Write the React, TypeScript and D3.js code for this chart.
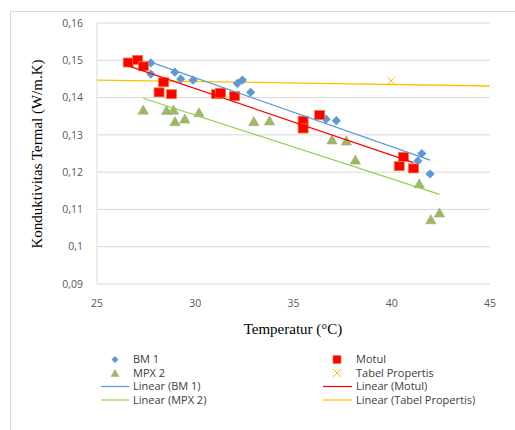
import React from "react";
import * as d3 from "d3";

const bm1T = [27.74, 27.74, 28.96, 29.26, 29.89, 32.14, 32.4, 32.82, 36.66, 37.18, 41.53, 41.33, 41.95];
const bm1K = [0.1493, 0.1463, 0.1468, 0.145, 0.1447, 0.1438, 0.1447, 0.1414, 0.1342, 0.1338, 0.125, 0.123, 0.1195];

const motulT = [26.59, 27.07, 27.37, 28.39, 28.16, 28.79, 31.08, 31.29, 32.0, 35.49, 35.49, 36.33, 40.6, 40.38, 41.11];
const motulK = [0.1494, 0.1501, 0.1484, 0.1441, 0.1414, 0.1409, 0.1409, 0.1413, 0.1404, 0.1338, 0.1317, 0.1353, 0.1241, 0.1216, 0.121];

const mpxT = [27.35, 28.54, 28.89, 28.97, 29.47, 30.19, 32.98, 33.78, 36.96, 37.69, 38.15, 41.4, 41.99, 42.43];
const mpxK = [0.1366, 0.1365, 0.1366, 0.1335, 0.1342, 0.1359, 0.1335, 0.1337, 0.1286, 0.1283, 0.1232, 0.1168, 0.1072, 0.109];

const tabelT = [39.97];
const tabelK = [0.1445];
// Excel trendline for Tabel Propertis (its fit spans beyond the plotted range)
const tabelTrendIntercept = 0.1467;
const tabelTrendSlope = -0.00008;

const xTicks = [25, 30, 35, 40, 45];
const yTicks = [0.09, 0.1, 0.11, 0.12, 0.13, 0.14, 0.15, 0.16];

const W = 515;
const H = 430;
const L = 97, R = 490, T = 23, B = 284;

const COL_BLUE = "#5B9BD5";
const COL_RED = "#FF0000";
const COL_GREEN = "#9BBB59";
const COL_LGREEN = "#92D050";
const COL_ORANGE = "#FFC000";

function fit(xs: number[], ys: number[]) {
  const mx = d3.mean(xs)!;
  const my = d3.mean(ys)!;
  let num = 0, den = 0;
  xs.forEach((x, i) => { num += (x - mx) * (ys[i] - my); den += (x - mx) * (x - mx); });
  const b = num / den;
  return { a: my - b * mx, b, x0: d3.min(xs)!, x1: d3.max(xs)! };
}

export default function App() {
  const x = d3.scaleLinear().domain([25, 45]).range([L, R]);
  const y = d3.scaleLinear().domain([0.09, 0.16]).range([B, T]);

  const fBm = fit(bm1T, bm1K);
  const fMo = fit(motulT, motulK);
  const fMp = fit(mpxT, mpxK);

  const line = d3.line<[number, number]>().x(d => x(d[0])).y(d => y(d[1]));
  const trend = (f: { a: number; b: number; x0: number; x1: number }) =>
    line([[f.x0, f.a + f.b * f.x0], [f.x1, f.a + f.b * f.x1]]) || "";

  const tickFont = "'Open Sans', 'Liberation Sans', Arial, sans-serif";

  const diamond = (cx: number, cy: number, s = 4.6) =>
    `M${cx},${cy - s}L${cx + s},${cy}L${cx},${cy + s}L${cx - s},${cy}Z`;
  const tri = (cx: number, cy: number, s = 5.2) =>
    `M${cx},${cy - s}L${cx + s},${cy + s * 0.75}L${cx - s},${cy + s * 0.75}Z`;

  const legendRows = [
    { col: 0, row: 0, kind: "diamond", label: "BM 1" },
    { col: 1, row: 0, kind: "square", label: "Motul" },
    { col: 0, row: 1, kind: "tri", label: "MPX 2" },
    { col: 1, row: 1, kind: "x", label: "Tabel Propertis" },
    { col: 0, row: 2, kind: "line", color: COL_BLUE, label: "Linear (BM 1)" },
    { col: 1, row: 2, kind: "line", color: COL_RED, label: "Linear (Motul)" },
    { col: 0, row: 3, kind: "line", color: COL_LGREEN, label: "Linear (MPX 2)" },
    { col: 1, row: 3, kind: "line", color: COL_ORANGE, label: "Linear (Tabel Propertis)" },
  ];
  const legMarkX = [115, 337];
  const legTextX = [133, 356];
  const legLineX = [[101, 129], [323, 352]];
  const legY = [359.5, 373, 386.5, 400];

  return (
    <svg width={W} height={H} style={{ position: "absolute", left: 0, top: 0, background: "#fff" }}>
      <rect x={10.5} y={11.5} width={540} height={440} fill="#fff" stroke="#d9d9d9" />
      {yTicks.map(t => (
        <line key={"g" + t} x1={L} x2={R} y1={y(t)} y2={y(t)} stroke="#d9d9d9" strokeWidth={1} />
      ))}
      <line x1={L} x2={L} y1={T} y2={B} stroke="#d9d9d9" />
      {yTicks.map(t => (
        <text key={"yt" + t} x={83} y={y(t)} dy="0.35em" textAnchor="end" fontFamily={tickFont} fontSize={10.5} fill="#595959">
          {String(+t.toFixed(2)).replace(".", ",")}
        </text>
      ))}
      {xTicks.map(t => (
        <text key={"xt" + t} x={x(t)} y={303} dy="0.35em" textAnchor="middle" fontFamily={tickFont} fontSize={10.5} fill="#595959">
          {t}
        </text>
      ))}
      <text x={293} y={334} textAnchor="middle" fontFamily="'Liberation Serif', 'Times New Roman', serif" fontSize={15} fill="#000">
        Temperatur (°C)
      </text>
      <text transform={`translate(42,${154}) rotate(-90)`} textAnchor="middle" fontFamily="'Liberation Serif', 'Times New Roman', serif" fontSize={15} fill="#000">
        Konduktivitas Termal (W/m.K)
      </text>

      <path d={line([[25, tabelTrendIntercept + tabelTrendSlope * 25], [45, tabelTrendIntercept + tabelTrendSlope * 45]]) || ""} stroke={COL_ORANGE} strokeWidth={1.3} fill="none" />

      {bm1T.map((t, i) => (
        <path key={"b" + i} d={diamond(x(t), y(bm1K[i]))} fill={COL_BLUE} />
      ))}
      {mpxT.map((t, i) => (
        <path key={"m" + i} d={tri(x(t), y(mpxK[i]))} fill={COL_GREEN} stroke="#a5a5a5" strokeWidth={0.6} />
      ))}
      {motulT.map((t, i) => (
        <rect key={"r" + i} x={x(t) - 5} y={y(motulK[i]) - 4.5} width={10} height={9} fill={COL_RED} stroke="#ED7D31" strokeWidth={0.8} />
      ))}
      {tabelT.map((t, i) => (
        <g key={"x" + i} stroke={COL_ORANGE} strokeWidth={1}>
          <line x1={x(t) - 4} x2={x(t) + 4} y1={y(tabelK[i]) - 4} y2={y(tabelK[i]) + 4} />
          <line x1={x(t) - 4} x2={x(t) + 4} y1={y(tabelK[i]) + 4} y2={y(tabelK[i]) - 4} />
        </g>
      ))}

      <path d={trend(fBm)} stroke={COL_BLUE} strokeWidth={1.2} fill="none" />
      <path d={trend(fMo)} stroke={COL_RED} strokeWidth={1.2} fill="none" />
      <path d={trend(fMp)} stroke={COL_LGREEN} strokeWidth={1.2} fill="none" />

      {legendRows.map((r, i) => {
        const cy = legY[r.row];
        const mx = legMarkX[r.col];
        let mark: React.ReactNode = null;
        if (r.kind === "diamond") mark = <path d={diamond(mx, cy, 3.5)} fill={COL_BLUE} />;
        else if (r.kind === "square") mark = <rect x={mx - 4} y={cy - 4} width={8} height={8} fill={COL_RED} stroke="#ED7D31" strokeWidth={0.6} />;
        else if (r.kind === "tri") mark = <path d={tri(mx, cy + 0.5, 4)} fill={COL_GREEN} stroke="#a5a5a5" strokeWidth={0.5} />;
        else if (r.kind === "x") mark = (
          <g stroke={COL_ORANGE} strokeWidth={1}>
            <line x1={mx - 4} x2={mx + 4} y1={cy - 4} y2={cy + 4} />
            <line x1={mx - 4} x2={mx + 4} y1={cy + 4} y2={cy - 4} />
          </g>
        );
        else mark = <line x1={legLineX[r.col][0]} x2={legLineX[r.col][1]} y1={cy} y2={cy} stroke={r.color} strokeWidth={1.2} />;
        return (
          <g key={"l" + i}>
            {mark}
            <text x={legTextX[r.col]} y={cy} dy="0.35em" fontFamily={tickFont} fontSize={11} fill="#404040">
              {r.label}
            </text>
          </g>
        );
      })}
    </svg>
  );
}
